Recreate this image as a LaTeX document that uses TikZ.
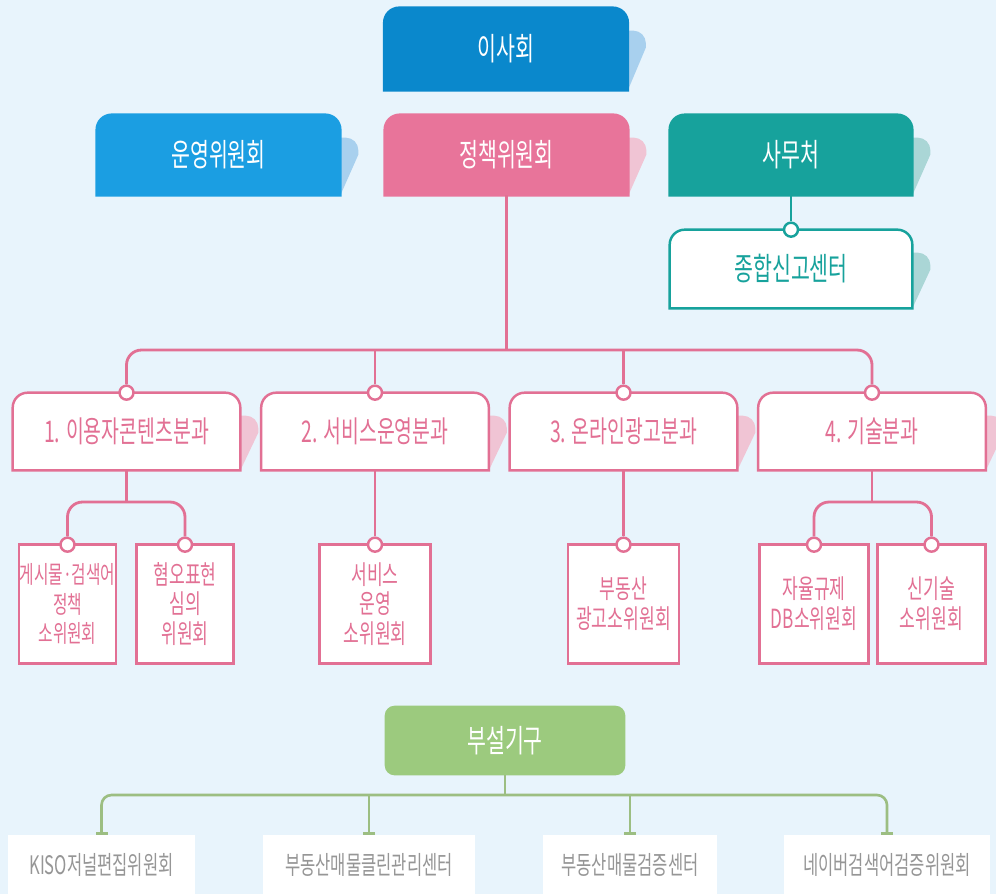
\documentclass[tikz,border=0pt]{standalone}
\usepackage{fontspec}
\setmainfont[FakeStretch=0.65]{Noto Sans CJK KR}
\usetikzlibrary{arrows.meta,calc}
\pgfdeclarelayer{bg}
\pgfsetlayers{bg,main}

\definecolor{bgblue}{RGB}{232,244,252}
\definecolor{boardblue}{RGB}{10,136,204}
\definecolor{opblue}{RGB}{27,158,226}
\definecolor{policypink}{RGB}{232,116,154}
\definecolor{officeteal}{RGB}{23,162,156}
\definecolor{pinkline}{RGB}{226,112,148}
\definecolor{annexgreen}{RGB}{156,202,126}
\definecolor{greenline}{RGB}{156,190,130}
\definecolor{footgray}{RGB}{150,150,150}
\definecolor{tabblue}{RGB}{168,208,238}
\definecolor{tabpink}{RGB}{240,196,212}
\definecolor{tabteal}{RGB}{170,214,214}

% box with rounded top corners only
\newcommand{\topbox}[3]{%
  \filldraw[fill=#2, draw=#3, line width=1.4pt] (#1.south west)
    [rounded corners=0.3cm] -- (#1.north west) -- (#1.north east)
    [sharp corners] -- (#1.south east) -- cycle;}
% folded shadow tab on the right side
\newcommand{\sidetab}[2]{%
  \fill[#2] ([yshift=-0.46cm]#1.north east)
    [rounded corners=0.25cm] -- ++(0.36cm,0)
    [sharp corners] -- ++(0,-0.34cm) -- (#1.south east) -- cycle;}

\tikzset{
  headbox/.style={minimum width=4.86cm, minimum height=1.6cm, inner sep=0pt,
    text=white, font=\fontsize{18}{21}\selectfont},
  divbox/.style={minimum width=4.54cm, minimum height=1.54cm, inner sep=0pt,
    text=pinkline, font=\fontsize{17}{20}\selectfont},
  subbox/.style={minimum height=2.36cm, inner sep=0pt, align=center,
    text=pinkline, font=\fontsize{15}{17}\selectfont},
  footbox/.style={minimum height=1.2cm, inner sep=0pt,
    text=footgray, font=\fontsize{14.5}{17}\selectfont},
  plink/.style={draw=pinkline, line width=1.6pt},
  tlink/.style={draw=officeteal, line width=1.6pt},
  glink/.style={draw=greenline, line width=1.5pt},
  pdot/.style={circle, fill=white, draw=pinkline, line width=1.4pt,
    inner sep=0pt, minimum size=0.28cm},
  tdot/.style={pdot, draw=officeteal},
}

\begin{document}
\begin{tikzpicture}[x=0.02cm, y=-0.02cm]
  \useasboundingbox (0,0) rectangle (996,894);

  % top level
  \node[headbox, minimum height=1.64cm] (board) at (506,49) {이사회};
  \node[headbox] (opcom) at (218.5,155) {운영위원회};
  \node[headbox] (policy) at (506.5,155) {정책위원회};
  \node[headbox, minimum width=4.84cm] (office) at (791,155) {사무처};
  \node[headbox, minimum width=4.84cm, minimum height=1.56cm, text=officeteal] (report) at (791,269) {종합신고센터};

  % divisions
  \node[divbox] (div1) at (126.5,431.5) {1. 이용자콘텐츠분과};
  \node[divbox] (div2) at (375,431.5) {2. 서비스운영분과};
  \node[divbox] (div3) at (623.5,431.5) {3. 온라인광고분과};
  \node[divbox] (div4) at (872,431.5) {4. 기술분과};

  % subcommittees
  \node[subbox, minimum width=1.9cm, font=\fontsize{13.8}{17}\selectfont] (s1a) at (67.5,604) {게시물·검색어\\정책\\소위원회};
  \node[subbox, minimum width=1.92cm] (s1b) at (185,604) {혐오표현\\심의\\위원회};
  \node[subbox, minimum width=2.2cm] (s2) at (375,604) {서비스\\운영\\소위원회};
  \node[subbox, minimum width=2.2cm] (s3) at (623.5,604) {부동산\\광고소위원회};
  \node[subbox, minimum width=2.16cm] (s4a) at (814,604) {자율규제\\DB소위원회};
  \node[subbox, minimum width=2.14cm] (s4b) at (931.5,604) {신기술\\소위원회};

  % attached bodies
  \node[headbox, minimum width=4.8cm, minimum height=1.38cm] (annex) at (505,740.5) {부설기구};
  \node[footbox, minimum width=3.74cm] (b1) at (101.5,865) {KISO저널편집위원회};
  \node[footbox, minimum width=4.24cm] (b2) at (369,865) {부동산매물클린관리센터};
  \node[footbox, minimum width=3.48cm] (b3) at (630,865) {부동산매물검증센터};
  \node[footbox, minimum width=4.1cm] (b4) at (887,865) {네이버검색어검증위원회};

  % pins
  \node[tdot] (report-pin) at (report.north) {};
  \foreach \n in {div1,div2,div3,div4,s1a,s1b,s2,s3,s4a,s4b}
    \node[pdot] (\n-pin) at (\n.north) {};

  \coordinate (pbus) at (506.5,350);
  \coordinate (d1bus) at (126.5,502);
  \coordinate (d4bus) at (872,502);
  \coordinate (gbus) at (505,795);

  % connectors
  \draw[tlink] (office.south) -- (report-pin);
  \draw[plink] (policy.south) -- (pbus);
  \draw[plink, rounded corners=0.3cm] (div1-pin) |- (pbus) -| (div4-pin);
  \draw[plink] (div2-pin) -- (div2-pin |- pbus);
  \draw[plink] (div3-pin) -- (div3-pin |- pbus);
  \draw[plink] (div1.south) -- (d1bus);
  \draw[plink, rounded corners=0.3cm] (s1a-pin) |- (d1bus) -| (s1b-pin);
  \draw[plink] (div2.south) -- (s2-pin);
  \draw[plink] (div3.south) -- (s3-pin);
  \draw[plink] (div4.south) -- (d4bus);
  \draw[plink, rounded corners=0.3cm] (s4a-pin) |- (d4bus) -| (s4b-pin);
  \draw[glink] (annex.south) -- (gbus);
  \draw[glink, rounded corners=0.2cm, {Bar[width=0.24cm]}-{Bar[width=0.24cm]}] (b1.north) |- (gbus) -| (b4.north);
  \draw[glink, -{Bar[width=0.24cm]}] (b2.north |- gbus) -- (b2.north);
  \draw[glink, -{Bar[width=0.24cm]}] (b3.north |- gbus) -- (b3.north);

  % box shapes behind the texts
  \begin{pgfonlayer}{bg}
    \fill[bgblue] (0,0) rectangle (996,894);
    \sidetab{board}{tabblue}
    \sidetab{opcom}{tabblue}
    \sidetab{policy}{tabpink}
    \sidetab{office}{tabteal}
    \sidetab{report}{tabteal}
    \foreach \n in {div1,div2,div3,div4} {\sidetab{\n}{tabpink}}
    \topbox{board}{boardblue}{boardblue}
    \topbox{opcom}{opblue}{opblue}
    \topbox{policy}{policypink}{policypink}
    \topbox{office}{officeteal}{officeteal}
    \topbox{report}{white}{officeteal}
    \foreach \n in {div1,div2,div3,div4} {\topbox{\n}{white}{pinkline}}
    \foreach \n in {s1a,s1b,s2,s3,s4a,s4b}
      \filldraw[fill=white, draw=pinkline, line width=1.4pt] (\n.south west) rectangle (\n.north east);
    \fill[annexgreen, rounded corners=0.2cm] (annex.south west) rectangle (annex.north east);
    \foreach \n in {b1,b2,b3,b4}
      \fill[white] (\n.south west) rectangle (\n.north east);
  \end{pgfonlayer}
\end{tikzpicture}
\end{document}
